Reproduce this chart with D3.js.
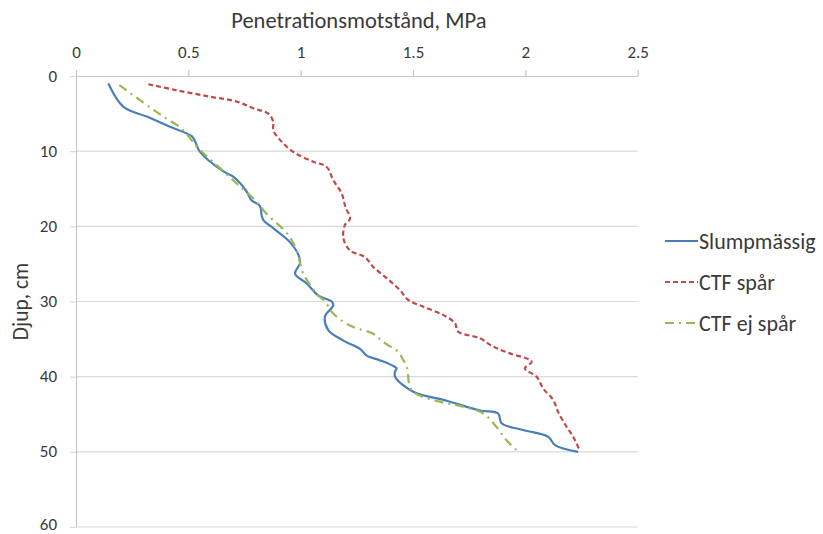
<!DOCTYPE html>
<html><head><meta charset="utf-8">
<script src="https://cdn.jsdelivr.net/npm/d3@7"></script>
<style>
body{margin:0;background:#fff;}
svg{display:block;font-family:Carlito, Lato, "Open Sans", sans-serif;}
</style></head>
<body>
<svg id="chart" width="823" height="534"></svg>
<script>
const xTicks = [0, 0.5, 1, 1.5, 2, 2.5];
const yTicks = [0, 10, 20, 30, 40, 50, 60];
const seriesNames = ["Slumpmässig", "CTF spår", "CTF ej spår"];

const slumpDepth = [1.0,4.1,5.4,6.75,8.0,8.7,10.1,12.7,13.4,15.4,16.5,17.3,18.5,19.2,20.3,22.1,23.8,24.9,26.3,27.6,29.2,30.0,30.5,32.0,33.8,35.2,36.3,37.2,37.8,38.4,38.9,39.3,40.0,42.0,43.2,44.5,44.9,46.2,47.1,48.0,49.1,50.0];
const slumpValue = [0.144,0.211,0.315,0.418,0.515,0.530,0.552,0.656,0.700,0.760,0.780,0.819,0.826,0.835,0.880,0.952,0.990,0.997,0.975,1.027,1.078,1.138,1.145,1.108,1.123,1.190,1.264,1.294,1.350,1.400,1.427,1.420,1.420,1.501,1.650,1.798,1.879,1.894,1.990,2.102,2.132,2.235];

const sparDepth = [1.1,1.9,2.75,3.4,4.3,5.0,6.1,7.2,8.5,10.1,11.4,12.1,13.85,15.6,17.5,18.95,19.8,21.6,23.2,24.1,25.4,26.9,28.5,29.8,30.7,31.8,32.9,34.0,34.9,36.0,36.9,38.0,38.9,40.0,41.6,43.1,44.7,46.7,48.0,49.9];
const sparValue = [0.322,0.448,0.596,0.715,0.789,0.856,0.878,0.878,0.908,0.967,1.056,1.116,1.145,1.182,1.200,1.220,1.197,1.190,1.219,1.286,1.323,1.383,1.442,1.479,1.546,1.635,1.687,1.700,1.798,1.857,1.931,2.028,1.998,2.050,2.080,2.124,2.146,2.184,2.213,2.243];

const ejSparDepth = [1.2,3.55,5.4,7.0,9.6,11.85,14.3,16.5,18.4,20.9,23.2,26.3,29.2,30.0,31.6,33.2,34.3,35.4,36.9,37.4,38.7,41.8,43.1,44.0,44.9,46.7,48.5,49.9];
const ejSparValue = [0.193,0.300,0.389,0.470,0.544,0.626,0.715,0.797,0.850,0.938,0.982,1.012,1.078,1.108,1.145,1.219,1.323,1.368,1.442,1.449,1.472,1.494,1.590,1.724,1.813,1.872,1.917,1.965];

const svg = d3.select("#chart");
const x = d3.scaleLinear().domain([0, 2.5]).range([76, 637.7]);
const y = d3.scaleLinear().domain([0, 60]).range([76, 527]);
const textCol = "#3a3a3a";
const font = "Carlito, Lato, sans-serif";

// gridlines
svg.append("g").selectAll("line").data(yTicks.filter(d => d > 0)).join("line")
  .attr("x1", x(0)).attr("x2", x(2.5))
  .attr("y1", d => y(d)).attr("y2", d => y(d))
  .attr("stroke", "#d9d9d9").attr("stroke-width", 1.2);

// x axis (top)
const xAxis = svg.append("g").attr("transform", `translate(0,${y(0)})`)
  .call(d3.axisTop(x).tickValues(xTicks).tickFormat(d3.format("")).tickSize(6).tickPadding(12).tickSizeOuter(0));
xAxis.select(".domain").attr("stroke", "#c8c8c8").attr("stroke-width", 1.2);
xAxis.selectAll(".tick line").attr("stroke", "#c8c8c8").attr("stroke-width", 1.2);
xAxis.selectAll("text").attr("font-size", 17).attr("fill", textCol).attr("font-family", font);

// y axis
const yAxis = svg.append("g").attr("transform", `translate(${x(0)},0)`)
  .call(d3.axisLeft(y).tickValues(yTicks).tickSize(6).tickPadding(13).tickSizeOuter(0));
yAxis.select(".domain").attr("stroke", "#c8c8c8").attr("stroke-width", 1.2);
yAxis.selectAll(".tick line").attr("stroke", "#d9d9d9").attr("stroke-width", 1.2);
yAxis.selectAll("text").attr("font-size", 17).attr("fill", textCol).attr("font-family", font)
  .attr("dy", d => d === 60 ? "0.12em" : "0.3em");

// titles
svg.append("text").attr("x", (x(0) + x(2.5)) / 2 + 2).attr("y", 28)
  .attr("text-anchor", "middle").attr("font-size", 22.5).attr("fill", textCol)
  .text("Penetrationsmotstånd, MPa");
svg.append("text").attr("transform", `translate(28,${(y(0) + y(60)) / 2}) rotate(-90)`)
  .attr("text-anchor", "middle").attr("font-size", 21.5).attr("fill", textCol)
  .text("Djup, cm");

// series
const series = [
  {name: seriesNames[0], depth: slumpDepth, value: slumpValue, color: "#4a7ebb", dash: null},
  {name: seriesNames[1], depth: sparDepth, value: sparValue, color: "#be4b48", dash: "5,3"},
  {name: seriesNames[2], depth: ejSparDepth, value: ejSparValue, color: "#98b954", dash: "9,5,2,5"}
];
const line = d3.line().x(d => x(d[1])).y(d => y(d[0])).curve(d3.curveCatmullRom.alpha(0.5));
series.forEach(s => {
  const pts = s.depth.map((d, i) => [d, s.value[i]]);
  svg.append("path").datum(pts).attr("d", line)
    .attr("fill", "none").attr("stroke", s.color).attr("stroke-width", 2.2)
    .attr("stroke-dasharray", s.dash);
});

// legend
const legendY = [241, 282, 323];
const lg = svg.append("g");
series.forEach((s, i) => {
  lg.append("line").attr("x1", 665).attr("x2", 698).attr("y1", legendY[i]).attr("y2", legendY[i])
    .attr("stroke", s.color).attr("stroke-width", 2.2).attr("stroke-dasharray", s.dash);
  lg.append("text").attr("x", 699).attr("y", legendY[i]).attr("dy", "0.35em")
    .attr("font-size", 22).attr("fill", textCol).text(s.name);
});
</script>
</body></html>
